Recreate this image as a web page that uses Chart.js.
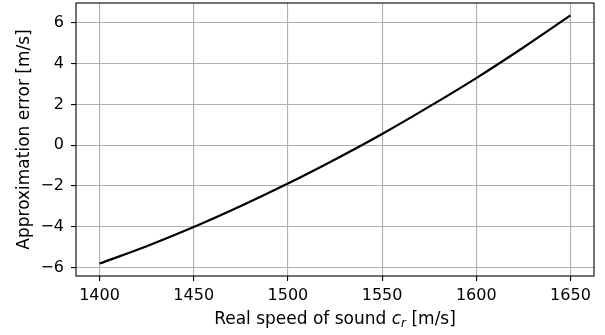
<!DOCTYPE html>
<html>
<head>
<meta charset="utf-8">
<script src="https://cdn.jsdelivr.net/npm/chart.js@4/dist/chart.umd.min.js"></script>
<style>
html,body{margin:0;padding:0;background:#fff;}
#wrap{width:605px;height:335px;position:relative;}
</style>
</head>
<body>
<div id="wrap"><canvas id="c" width="605" height="335"></canvas></div>
<script>
const speeds = [1400, 1425, 1450, 1475, 1500, 1525, 1550, 1575, 1600, 1625, 1650];
const errors = [-5.80, -4.95, -4.01, -2.98, -1.88, -0.70, 0.55, 1.89, 3.29, 4.79, 6.36];
const xTicks = [1400, 1450, 1500, 1550, 1600, 1650];
const yTicks = [-6, -4, -2, 0, 2, 4, 6];
const xTitleParts = ["Real speed of sound ", "c", "r", " [m/s]"];
const yTitle = "Approximation error [m/s]";

const FONT = "'DejaVu Sans', sans-serif";

const framePlugin = {
  id: 'frame',
  afterDatasetsDraw(chart) {
    const {ctx, chartArea: a} = chart;
    ctx.save();
    ctx.strokeStyle = '#000';
    ctx.lineWidth = 1.1;
    ctx.strokeRect(a.left, a.top, a.right - a.left, a.bottom - a.top);
    ctx.restore();
  }
};

const xTitlePlugin = {
  id: 'xtitle',
  afterDraw(chart) {
    const {ctx, chartArea: a} = chart;
    ctx.save();
    ctx.fillStyle = '#000';
    ctx.textBaseline = 'alphabetic';
    ctx.textAlign = 'left';
    const fonts = ["17px " + FONT, "italic 17px " + FONT, "italic 12px " + FONT, "17px " + FONT];
    const shifts = [0, 0, 2.5, 0];
    let widths = xTitleParts.map((t, i) => { ctx.font = fonts[i]; return ctx.measureText(t).width; });
    const total = widths.reduce((s, w) => s + w, 0);
    let x = (a.left + a.right) / 2 - total / 2;
    const y = 324;
    xTitleParts.forEach((t, i) => {
      ctx.font = fonts[i];
      ctx.fillText(t, x, y + shifts[i]);
      x += widths[i];
    });
    ctx.restore();
  }
};

const fmt = v => String(v).replace('-', '\u2212');

new Chart(document.getElementById('c'), {
  type: 'line',
  data: {
    datasets: [{
      data: speeds.map((s, i) => ({x: s, y: errors[i]})),
      borderColor: '#000',
      borderWidth: 2.2,
      pointRadius: 0,
      fill: false,
      cubicInterpolationMode: 'monotone'
    }]
  },
  options: {
    responsive: false,
    animation: false,
    layout: {padding: {left: 0, right: 11, top: 3, bottom: 0}},
    plugins: {legend: {display: false}, tooltip: {enabled: false}},
    scales: {
      x: {
        type: 'linear',
        min: 1387.5,
        max: 1662.5,
        afterBuildTicks: s => { s.ticks = xTicks.map(v => ({value: v})); },
        afterFit: s => { s.height = 59; s.paddingLeft = 0; s.paddingRight = 0; },
        ticks: {
          color: '#000',
          font: {family: FONT, size: 16},
          padding: 5,
          maxRotation: 0,
          autoSkip: false,
          callback: v => fmt(v)
        },
        grid: {color: '#b0b0b0', lineWidth: 1.1, tickColor: '#000', tickLength: 5, drawTicks: true},
        border: {display: false}
      },
      y: {
        type: 'linear',
        min: -6.41,
        max: 6.97,
        afterBuildTicks: s => { s.ticks = yTicks.map(v => ({value: v})); },
        afterFit: s => { s.width = 76; s.paddingTop = 0; s.paddingBottom = 0; },
        ticks: {
          color: '#000',
          font: {family: FONT, size: 16},
          padding: 7,
          autoSkip: false,
          callback: v => fmt(v)
        },
        grid: {color: '#b0b0b0', lineWidth: 1.1, tickColor: '#000', tickLength: 5, drawTicks: true},
        border: {display: false},
        title: {
          display: true,
          text: yTitle,
          color: '#000',
          font: {family: FONT, size: 17, lineHeight: 1.2},
          padding: {top: 14, bottom: 0}
        }
      }
    }
  },
  plugins: [framePlugin, xTitlePlugin]
});
</script>
</body>
</html>
